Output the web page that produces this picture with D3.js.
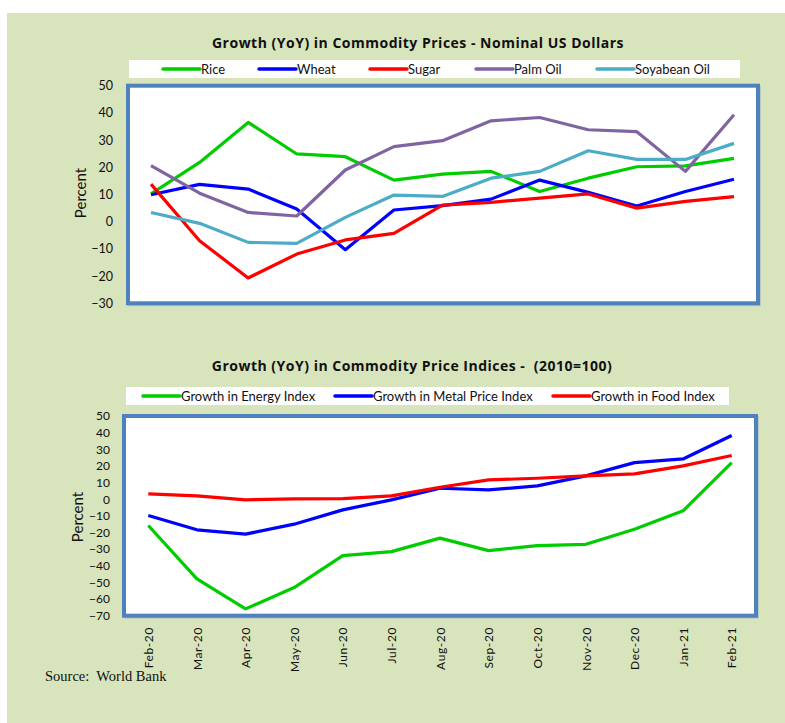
<!DOCTYPE html>
<html><head><meta charset="utf-8">
<script src="https://cdn.jsdelivr.net/npm/d3@7"></script>
<style>
html,body{margin:0;padding:0;background:#fff;}
svg{display:block;}
</style></head>
<body>
<svg id="chart" width="785" height="723"></svg>
<script>
const months = ["Feb-20","Mar-20","Apr-20","May-20","Jun-20","Jul-20","Aug-20","Sep-20","Oct-20","Nov-20","Dec-20","Jan-21","Feb-21"];

// Top chart series (percent YoY)
const rice    = [10.2, 21.8, 36.5, 24.9, 23.9, 15.3, 17.5, 18.5, 11.1, 16.0, 20.2, 20.5, 23.3];
const wheat   = [9.9, 13.7, 12.0, 4.7, -10.3, 4.3, 5.9, 8.3, 15.3, 10.8, 5.8, 11.1, 15.6];
const sugar   = [13.8, -7.0, -20.7, -11.9, -6.7, -4.3, 6.1, 7.1, 8.7, 10.2, 5.0, 7.5, 9.2];
const palmOil = [20.6, 10.5, 3.4, 2.1, 19.0, 27.6, 29.8, 37.1, 38.3, 33.8, 33.1, 18.5, 39.3];
const soyOil  = [3.4, -0.6, -7.6, -8.0, 1.6, 9.8, 9.3, 16.0, 18.5, 26.1, 22.9, 22.9, 28.8];
const topNames = ["Rice","Wheat","Sugar","Palm Oil","Soyabean Oil"];
const topTicks = [50, 40, 30, 20, 10, 0, -10, -20, -30];

// Bottom chart series (percent YoY)
const energyIdx = [-15.8, -47.9, -65.9, -53.1, -33.9, -31.5, -23.4, -30.9, -27.9, -27.1, -18.0, -7.0, 22.0];
const metalIdx  = [-9.8, -18.4, -21.0, -15.0, -6.4, -0.4, 6.6, 5.6, 8.0, 14.0, 22.0, 24.2, 38.3];
const foodIdx   = [3.2, 2.0, -0.4, 0.2, 0.4, 2.0, 7.2, 11.6, 12.6, 14.0, 15.2, 20.0, 26.3];
const bottomNames = ["Growth in Energy Index","Growth in Metal Price Index","Growth in Food Index"];
const bottomTicks = [50, 40, 30, 20, 10, 0, -10, -20, -30, -40, -50, -60, -70];

const svg = d3.select("#chart");
const FONT = "Lato, 'Open Sans', sans-serif";
const TFONT = "'Open Sans', Lato, sans-serif";
const BORDER = "#4F81BD";

// background panel
svg.append("rect").attr("x", 7).attr("y", 13).attr("width", 778).attr("height", 710).attr("fill", "#D8E4BC");

function drawChart(cfg) {
  const g = svg.append("g");
  const x = d3.scalePoint().domain(months).range(cfg.xRange);
  const y = d3.scaleLinear().domain([cfg.ticks[cfg.ticks.length-1], cfg.ticks[0]]).range(cfg.yRange);

  // title
  g.append("text").attr("x", cfg.titleX).attr("y", cfg.titleY).attr("text-anchor", "middle")
    .attr("font-family", TFONT).attr("font-weight", "bold").attr("font-size", 14).attr("letter-spacing", 0.5)
    .attr("fill", "#111").style("white-space", "pre").text(cfg.title);

  // legend
  g.append("rect").attr("x", cfg.legend.x).attr("y", cfg.legend.y).attr("width", cfg.legend.w).attr("height", cfg.legend.h).attr("fill", "#fff");
  cfg.names.forEach((n, i) => {
    const lx = cfg.legend.items[i];
    const cy = cfg.legend.y + cfg.legend.h / 2;
    g.append("line").attr("x1", lx).attr("x2", lx + 37).attr("y1", cy).attr("y2", cy)
      .attr("stroke", cfg.colors[i]).attr("stroke-width", 3.5).attr("stroke-linecap", "round");
    g.append("text").attr("x", lx + 38).attr("y", cy).attr("dy", "0.35em")
      .attr("font-family", FONT).attr("font-size", 13).attr("fill", "#111").text(n);
  });

  // plot area
  const bx = cfg.box[0], by = y.range()[1], bw = cfg.box[1] - cfg.box[0], bh = y.range()[0] - y.range()[1];
  g.append("rect").attr("x", bx + 1.5).attr("y", by + 1.5).attr("width", bw).attr("height", bh)
    .attr("fill", "none").attr("stroke", "#9fb0c8").attr("stroke-width", 3).attr("opacity", 0.5);
  g.append("rect").attr("x", bx).attr("y", by).attr("width", bw).attr("height", bh)
    .attr("fill", "#fff").attr("stroke", BORDER).attr("stroke-width", 4);

  // y axis
  const yAxis = d3.axisLeft(y).tickValues(cfg.ticks).tickSize(0).tickPadding(0);
  const ya = g.append("g").attr("transform", `translate(${cfg.yLabelX},0)`).call(yAxis);
  ya.select(".domain").remove();
  ya.selectAll("text").attr("font-family", FONT).attr("font-size", cfg.tickFont).attr("fill", "#111");

  g.append("text").attr("transform", `translate(${cfg.percentX},${cfg.percentY}) rotate(-90)`)
    .attr("text-anchor", "middle").attr("font-family", FONT).attr("font-size", 15).attr("fill", "#111").text("Percent");

  // lines
  const line = d3.line().x((d, i) => x(months[i])).y(d => y(d));
  cfg.series.forEach((s, i) => {
    g.append("path").datum(s).attr("d", line).attr("fill", "none")
      .attr("stroke", cfg.colors[i]).attr("stroke-width", 3.2).attr("stroke-linejoin", "round");
  });

  if (cfg.xLabels) {
    const xAxis = d3.axisBottom(x).tickSize(0).tickPadding(0);
    const xa = g.append("g").attr("transform", `translate(0,${cfg.xLabelY})`).call(xAxis);
    xa.select(".domain").remove();
    xa.selectAll("text").attr("font-family", FONT).attr("font-size", 12).attr("fill", "#111")
      .attr("letter-spacing", 0.6)
      .attr("text-anchor", "end").attr("y", 0).attr("dy", "0.35em").attr("transform", "rotate(-90)");
  }
}

drawChart({
  title: "Growth (YoY) in Commodity Prices - Nominal US Dollars",
  titleX: 418, titleY: 48,
  legend: { x: 129, y: 60, w: 611, h: 18, items: [163, 259, 370, 476, 597] },
  names: topNames,
  colors: ["#00CC00", "#0000FF", "#FF0000", "#8064A2", "#4BACC6"],
  series: [rice, wheat, sugar, palmOil, soyOil],
  ticks: topTicks,
  xRange: [151, 734],
  yRange: [303.3, 85.7],
  box: [128, 758],
  yLabelX: 113, tickFont: 12.5,
  percentX: 86, percentY: 193,
  xLabels: false
});

drawChart({
  title: "Growth (YoY) in Commodity Price Indices -  (2010=100)",
  titleX: 412, titleY: 371,
  legend: { x: 126, y: 387, w: 603, h: 18, items: [143, 335, 553] },
  names: bottomNames,
  colors: ["#00CC00", "#0000FF", "#FF0000"],
  series: [energyIdx, metalIdx, foodIdx],
  ticks: bottomTicks,
  xRange: [148.3, 731.7],
  yRange: [615.7, 416],
  box: [124, 756],
  yLabelX: 110, tickFont: 12,
  percentX: 83, percentY: 517,
  xLabels: true, xLabelY: 627
});

svg.append("text").attr("x", 45).attr("y", 681).attr("font-family", "'Liberation Serif', 'Times New Roman', serif")
  .attr("font-size", 14.5).attr("fill", "#111").style("white-space", "pre").text("Source:  World Bank");
</script>
</body></html>
